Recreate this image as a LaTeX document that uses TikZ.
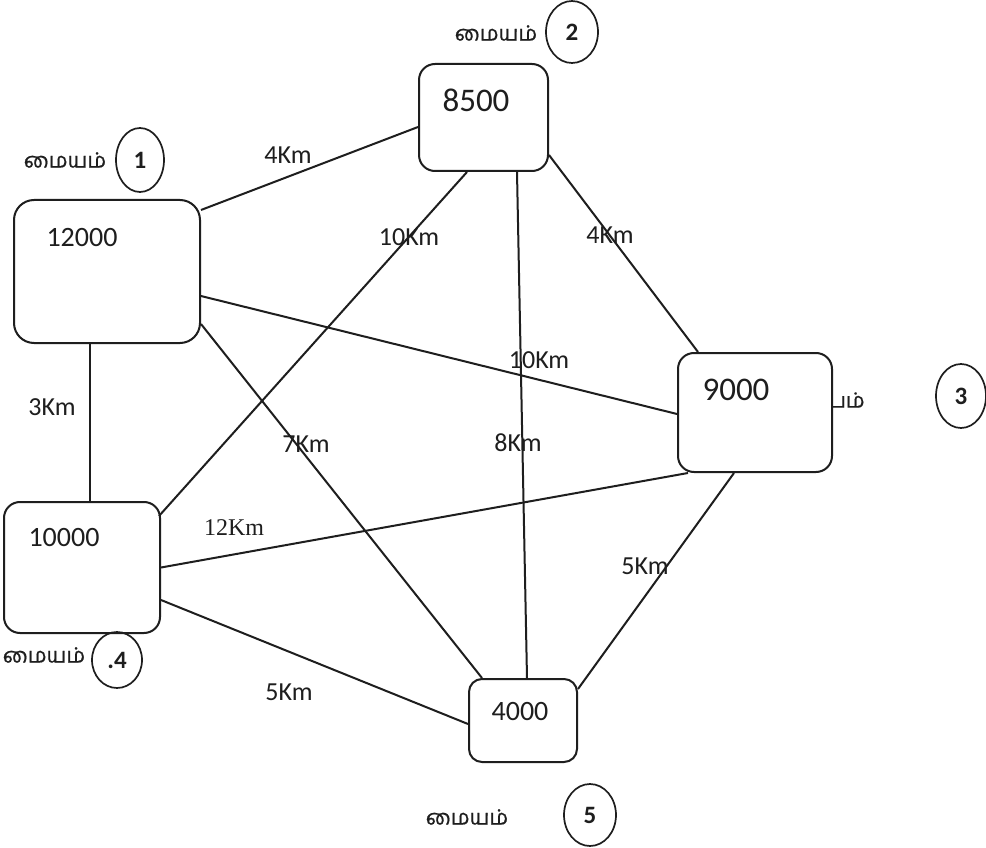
\documentclass[tikz,border=0pt]{standalone}
\usepackage{fontspec}
\setmainfont{Carlito}
\newfontfamily\tamil[Script=Tamil,FakeBold=0.8]{Hind Madurai}
\newfontfamily\serifnum{Liberation Serif}
\usetikzlibrary{shapes.geometric,calc}
\definecolor{ink}{HTML}{1E1E1E}
\tikzset{
  boxnode/.style={draw=ink,line width=2pt,rounded corners=16pt,inner sep=0pt,anchor=center},
  numtext/.style={text=ink,inner sep=0pt,font=\fontsize{28}{30}\selectfont},
  bignum/.style={text=ink,inner sep=0pt,font=\fontsize{33}{36}\selectfont},
  kmlabel/.style={text=ink,inner sep=0pt,font=\fontsize{26}{28}\selectfont},
  tamlabel/.style={text=ink,inner sep=0pt,font=\tamil\fontsize{21}{26}\selectfont},
  centre/.style={draw=ink,line width=1.7pt,ellipse,inner sep=0pt,text=ink,font=\bfseries\fontsize{25}{27}\selectfont},
  link/.style={draw=ink,line width=2pt}
}
\begin{document}
\begin{tikzpicture}[x=1pt,y=-1pt]
\useasboundingbox[fill=white] (0,0) rectangle (986,848);
% boxes
\node[boxnode,rounded corners=20pt,minimum width=186pt,minimum height=143pt] (b1) at (107,271.5) {};
\node[boxnode,minimum width=129pt,minimum height=107pt] (b2) at (483.5,117.5) {};
\node[boxnode,minimum width=154pt,minimum height=119pt] (b3) at (755,412.5) {};
\node[boxnode,minimum width=156pt,minimum height=131pt] (b4) at (82,567.5) {};
\node[boxnode,rounded corners=13pt,minimum width=108pt,minimum height=83pt] (b5) at (523,720.5) {};
% values
\node[numtext] (v1) at (82,238) {12000};
\node[bignum] (v2) at (476,100) {8500};
\node[bignum] (v3) at (736,390) {9000};
\node[numtext] (v4) at (64,538) {10000};
\node[numtext] (v5) at (520,712) {4000};
% centre markers
\node[centre,minimum width=48pt,minimum height=64pt] (c1) at (140,160) {1};
\node[centre,minimum width=52pt,minimum height=62pt] (c2) at (572,32) {2};
\node[centre,minimum width=50pt,minimum height=64pt] (c3) at (961,396) {3};
\node[centre,minimum width=50pt,minimum height=56pt] (c4) at (117,660) {.4};
\node[centre,minimum width=52pt,minimum height=62pt] (c5) at (590,815) {5};
\node[tamlabel] (t1) at (65,160) {மையம்};
\node[tamlabel] (t2) at (496,33) {மையம்};
\node[tamlabel] (t3) at (847,400) {பம்};
\node[tamlabel] (t4) at (44,655) {மையம்};
\node[tamlabel] (t5) at (467,817) {மையம்};
% connectors
\draw[link] ([yshift=-11pt]b1.north east) -- ([yshift=-9.5pt]b2.west);
\draw[link] ([yshift=-24.5pt]b1.east) -- ([yshift=-1.5pt]b3.west);
\draw[link] ([yshift=20pt]b1.south east) -- ([xshift=14pt]b5.north west);
\draw[link] ([xshift=-17pt]b1.south) -- ([xshift=8pt]b4.north);
\draw[link] ([xshift=-16.5pt]b2.south) -- ([xshift=-2pt,yshift=-15pt]b4.north east);
\draw[link] ([xshift=33.5pt]b2.south) -- ([xshift=4pt]b5.north);
\draw[link] ([yshift=-37.5pt]b2.east) -- ([xshift=21pt]b3.north west);
\draw[link] (b4.east) -- ([xshift=11pt]b3.south west);
\draw[link] ([xshift=57pt]b3.south west) -- ([yshift=-11pt]b5.north east);
\draw[link] ([yshift=-32.5pt]b4.east) -- ([yshift=-3.5pt]b5.west);
% distance labels
\node[kmlabel] (k12) at (288,155) {4Km};
\node[kmlabel] (k24) at (409,237) {10Km};
\node[kmlabel] (k23) at (610,235) {4Km};
\node[kmlabel] (k13) at (539,360) {10Km};
\node[kmlabel] (k15) at (306,444) {7Km};
\node[kmlabel] (k25) at (518,443) {8Km};
\node[kmlabel] (k14) at (52,407) {3Km};
\node[kmlabel,font=\serifnum\fontsize{24}{26}\selectfont] (k43) at (234,528) {12Km};
\node[kmlabel] (k35) at (645,566) {5Km};
\node[kmlabel] (k45) at (289,692) {5Km};
\end{tikzpicture}
\end{document}
